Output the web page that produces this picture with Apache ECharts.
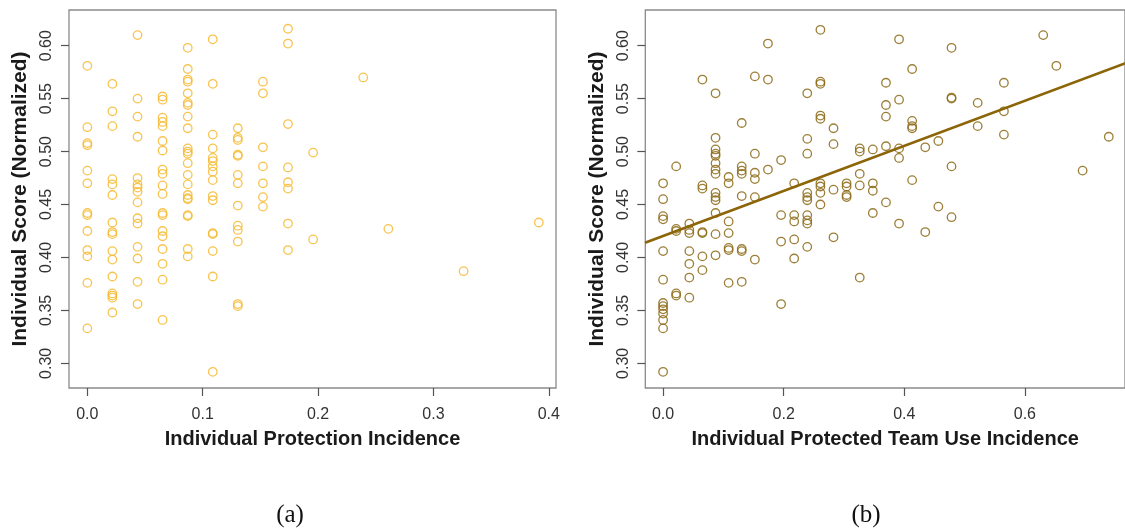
<!DOCTYPE html>
<html>
<head>
<meta charset="utf-8">
<script src="https://cdn.jsdelivr.net/npm/echarts@6/dist/echarts.min.js"></script>
<style>
html,body{margin:0;padding:0;background:#fff;}
#chart{width:1125px;height:531px;}
</style>
</head>
<body>
<div id="chart"></div>
<script>
// ---------- data ----------
const yTicks = [0.30, 0.35, 0.40, 0.45, 0.50, 0.55, 0.60];
const xTicksLeft = [0.0, 0.1, 0.2, 0.3, 0.4];
const xTicksRight = [0.0, 0.2, 0.4, 0.6];

// Panel (a): Individual Protection Incidence (x levels) and scores in each level
const leftXLevels = [0, 0.0217, 0.0435, 0.0652, 0.0870, 0.1087, 0.1304, 0.1522, 0.1739, 0.1957, 0.2391, 0.2609, 0.3261, 0.3913];
const leftYGroups = [
  [0.581, 0.523, 0.508, 0.506, 0.482, 0.470, 0.442, 0.440, 0.425, 0.407, 0.401, 0.376, 0.333],
  [0.564, 0.538, 0.524, 0.474, 0.469, 0.459, 0.433, 0.424, 0.422, 0.406, 0.398, 0.382, 0.366, 0.364, 0.362, 0.348],
  [0.610, 0.550, 0.533, 0.514, 0.475, 0.469, 0.466, 0.462, 0.452, 0.437, 0.432, 0.410, 0.399, 0.377, 0.356],
  [0.552, 0.549, 0.532, 0.528, 0.524, 0.510, 0.501, 0.483, 0.479, 0.468, 0.460, 0.442, 0.440, 0.425, 0.420, 0.408, 0.394, 0.379, 0.341],
  [0.598, 0.578, 0.568, 0.566, 0.555, 0.546, 0.544, 0.533, 0.522, 0.503, 0.500, 0.498, 0.489, 0.478, 0.469, 0.459, 0.456, 0.455, 0.440, 0.439, 0.408, 0.401],
  [0.606, 0.564, 0.516, 0.503, 0.494, 0.491, 0.486, 0.481, 0.473, 0.458, 0.454, 0.423, 0.422, 0.406, 0.382, 0.292],
  [0.522, 0.513, 0.511, 0.497, 0.496, 0.478, 0.470, 0.449, 0.430, 0.426, 0.415, 0.356, 0.354],
  [0.566, 0.555, 0.504, 0.486, 0.470, 0.457, 0.448],
  [0.616, 0.602, 0.526, 0.485, 0.471, 0.465, 0.432, 0.407],
  [0.499, 0.417],
  [0.570],
  [0.427],
  [0.387],
  [0.433]
];

// Panel (b): Individual Protected Team Use Incidence (x levels) and scores in each level
const rightXLevels = [0, 0.0217, 0.0435, 0.0652, 0.0870, 0.1087, 0.1304, 0.1522, 0.1739, 0.1957, 0.2174, 0.2391, 0.2609, 0.2826, 0.3043, 0.3261, 0.3478, 0.3696, 0.3913, 0.4130, 0.4348, 0.4565, 0.4783, 0.5217, 0.5652, 0.6304, 0.6522, 0.6957, 0.7391];
const rightYGroups = [
  [0.470, 0.455, 0.439, 0.436, 0.406, 0.379, 0.357, 0.354, 0.351, 0.347, 0.341, 0.333, 0.292],
  [0.486, 0.427, 0.425, 0.366, 0.364],
  [0.432, 0.426, 0.423, 0.406, 0.394, 0.381, 0.362],
  [0.568, 0.468, 0.465, 0.424, 0.423, 0.401, 0.388],
  [0.555, 0.513, 0.502, 0.498, 0.496, 0.489, 0.483, 0.479, 0.461, 0.457, 0.454, 0.442, 0.422, 0.402],
  [0.476, 0.470, 0.434, 0.423, 0.409, 0.407, 0.376],
  [0.527, 0.486, 0.482, 0.479, 0.458, 0.408, 0.406, 0.377],
  [0.571, 0.498, 0.480, 0.474, 0.457, 0.398],
  [0.602, 0.568, 0.483],
  [0.492, 0.440, 0.415, 0.356],
  [0.470, 0.440, 0.434, 0.417, 0.399],
  [0.555, 0.512, 0.498, 0.461, 0.457, 0.454, 0.440, 0.435, 0.432, 0.410],
  [0.615, 0.566, 0.564, 0.534, 0.531, 0.470, 0.467, 0.461, 0.450],
  [0.522, 0.507, 0.464, 0.419],
  [0.470, 0.467, 0.459, 0.457],
  [0.503, 0.500, 0.479, 0.468, 0.381],
  [0.502, 0.470, 0.463, 0.442],
  [0.565, 0.544, 0.533, 0.505, 0.452],
  [0.606, 0.549, 0.503, 0.494, 0.432],
  [0.578, 0.529, 0.524, 0.522, 0.473],
  [0.504, 0.424],
  [0.510, 0.448],
  [0.598, 0.551, 0.550, 0.486, 0.438],
  [0.546, 0.524],
  [0.565, 0.538, 0.516],
  [0.610],
  [0.581],
  [0.482],
  [0.514]
];

// fitted regression line endpoints for panel (b)
const fitX = [-0.03, 0.77];
const fitY = [0.4139, 0.5841];

// ---------- build ----------
function pairs(levels, groups) {
  const out = [];
  levels.forEach((x, i) => groups[i].forEach(y => out.push([x, y])));
  return out;
}
const leftData = pairs(leftXLevels, leftYGroups);
const rightData = pairs(rightXLevels, rightYGroups);
const fitData = fitX.map((x, i) => [x, fitY[i]]);

const FONT = '"Liberation Sans", Arial, Helvetica, sans-serif';
const boxColor = '#8a8a8a';
const tickColor = '#555';

function xAxisCfg(gi, min, max, ticks, name) {
  return {
    gridIndex: gi, type: 'value', min: min, max: max,
    splitLine: {show: false},
    axisLine: {show: false, onZero: false},
    axisTick: {show: true, length: 8, customValues: ticks, lineStyle: {color: tickColor, width: 1.2}},
    axisLabel: {customValues: ticks, formatter: v => v.toFixed(1), fontSize: 16, margin: 19, color: '#333', fontFamily: FONT},
    name: name, nameLocation: 'middle', nameGap: 41,
    nameTextStyle: {fontSize: 20, fontWeight: 'bold', color: '#1a1a1a', fontFamily: FONT}
  };
}
function yAxisCfg(gi) {
  return {
    gridIndex: gi, type: 'value', min: 0.2767, max: 0.6337,
    splitLine: {show: false},
    axisLine: {show: false, onZero: false},
    axisTick: {show: true, length: 8, customValues: yTicks, lineStyle: {color: tickColor, width: 1.2}},
    axisLabel: {customValues: yTicks, formatter: v => v.toFixed(2), rotate: 90, fontSize: 16, margin: 14, color: '#333', fontFamily: FONT},
    name: 'Individual Score (Normalized)', nameLocation: 'middle', nameGap: 38, nameRotate: 90,
    nameTextStyle: {fontSize: 21, fontWeight: 'bold', color: '#1a1a1a', fontFamily: FONT}
  };
}

const chart = echarts.init(document.getElementById('chart'), null, {renderer: 'canvas'});
chart.setOption({
  backgroundColor: '#ffffff',
  animation: false,
  grid: [
    {left: 69, top: 10, width: 487, height: 378, show: true, borderColor: boxColor, borderWidth: 1.3, backgroundColor: 'transparent'},
    {left: 645.3, top: 10, width: 486, height: 378, show: true, borderColor: boxColor, borderWidth: 1.3, backgroundColor: 'transparent'}
  ],
  xAxis: [
    xAxisCfg(0, -0.0159, 0.4062, xTicksLeft, 'Individual Protection Incidence'),
    xAxisCfg(1, -0.0295, 0.766, xTicksRight, 'Individual Protected Team Use Incidence')
  ],
  yAxis: [yAxisCfg(0), yAxisCfg(1)],
  series: [
    {
      type: 'scatter', xAxisIndex: 0, yAxisIndex: 0, data: leftData,
      symbol: 'circle', symbolSize: 8.5,
      itemStyle: {color: 'rgba(0,0,0,0)', borderColor: '#F6BA30', borderWidth: 1.3, opacity: 0.85}
    },
    {
      type: 'scatter', xAxisIndex: 1, yAxisIndex: 1, data: rightData,
      symbol: 'circle', symbolSize: 8.5,
      itemStyle: {color: 'rgba(0,0,0,0)', borderColor: '#8B6914', borderWidth: 1.3, opacity: 0.85}
    },
    {
      type: 'line', xAxisIndex: 1, yAxisIndex: 1, data: fitData,
      showSymbol: false, symbol: 'none', clip: true,
      lineStyle: {color: '#8B6508', width: 2.6}
    }
  ],
  graphic: [
    {type: 'text', x: 290, y: 515, style: {text: '(a)', font: '25px "Liberation Serif", "DejaVu Serif", serif', fill: '#111', textAlign: 'center', textVerticalAlign: 'middle'}},
    {type: 'text', x: 866, y: 515, style: {text: '(b)', font: '25px "Liberation Serif", "DejaVu Serif", serif', fill: '#111', textAlign: 'center', textVerticalAlign: 'middle'}}
  ]
});
</script>
</body>
</html>
